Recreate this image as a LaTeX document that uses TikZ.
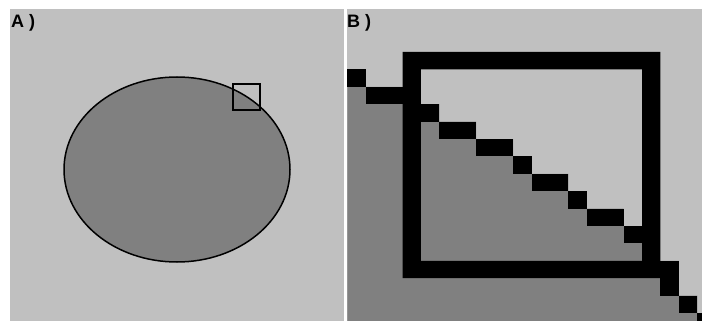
\documentclass[tikz,border=0pt]{standalone}
\usepackage{fontspec}
\setsansfont{Liberation Sans}
\usepackage{tikz}

\definecolor{lightbg}{HTML}{C0C0C0}
\definecolor{darkfill}{HTML}{808080}

\tikzset{
  panel/.style = {fill=lightbg},
  pix/.style = {fill=black},
  tag/.style = {anchor=base west, inner sep=0pt,
                font=\sffamily\bfseries\fontsize{18}{18}\selectfont}
}

\begin{document}
\begin{tikzpicture}[x=1pt, y=-1pt]
\useasboundingbox (0, 0) rectangle (702, 321);
\fill[white] (0, 0) rectangle (702, 321);

% left panel
\fill[panel] (10, 9) rectangle (344, 321);
\filldraw[fill=darkfill, draw=black, line width=1.5pt] (177, 169.5) ellipse (113 and 92.5);
\draw[line width=2pt] (232.7, 84.3) rectangle (260, 109.7);
\node[tag] (labA) at (11, 28) {A )};

% right panel, blown up pixels
\fill[panel] (347, 9) rectangle (702, 321);
\begin{scope}
\clip (347, 9) rectangle (702, 321);
\begin{scope}[shift={(347.3, 52)}, x=18.42pt, y=-17.4pt]
\fill[darkfill] (0, 1) -- (1, 1) -- (1, 2) -- (3, 2) -- (3, 3) -- (5, 3)
                -- (5, 4) -- (7, 4) -- (7, 5) -- (9, 5) -- (9, 6) -- (10, 6)
                -- (10, 7) -- (12, 7) -- (12, 8) -- (13, 8) -- (13, 9)
                -- (15, 9) -- (15, 10) -- (16, 10) -- (16, 12) -- (18, 12)
                -- (18, 14) -- (19, 14) -- (19, 15) -- (20, 15) -- (20, 16)
                -- (0, 16) -- cycle;
\foreach \c/\r in {0/1, 1/2, 2/2, 4/3, 5/4, 6/4, 7/5, 8/5, 9/6, 10/7,
                   11/7, 12/8, 13/9, 14/9, 15/10, 17/12, 17/13, 18/14, 19/15}
  \fill[pix] (\c, \r) rectangle ++(1, 1);
\fill[pix, even odd rule] (3, 0) rectangle (17, 13) (4, 1) rectangle (16, 12);
\end{scope}
\end{scope}
\node[tag] (labB) at (347, 28) {B )};
\end{tikzpicture}
\end{document}
